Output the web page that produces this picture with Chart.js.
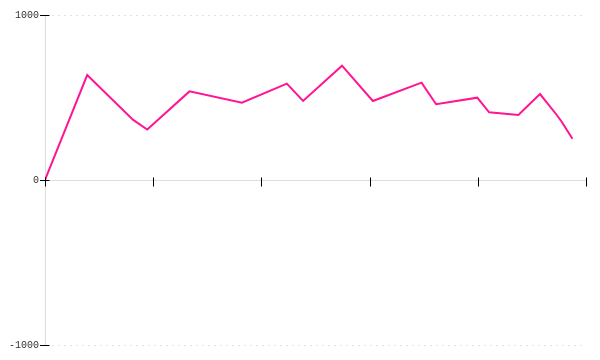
<!DOCTYPE html>
<html>
<head>
<meta charset="utf-8">
<script src="https://cdn.jsdelivr.net/npm/chart.js@4"></script>
<style>
  html, body { margin: 0; padding: 0; background: #fff; }
  #chart { display: block; }
</style>
</head>
<body>
<canvas id="chart" width="600" height="360"></canvas>
<script>
// data
const xValues = [0, 7.8, 16.3, 18.9, 26.7, 36.4, 44.7, 47.7, 54.9, 60.6, 69.6, 72.3, 79.9, 82.1, 87.5, 91.5, 94.6, 95.5, 97.5];
const yValues = [0, 636, 364, 306, 537, 468, 584, 479, 693, 479, 590, 459, 499, 410, 394, 521, 394, 353, 250];
const yTicks = [-1000, 0, 1000];
const xTicks = [0, 20, 40, 60, 80, 100];

const points = xValues.map((x, i) => ({ x: x, y: yValues[i] }));

// short black tick marks crossing the axes
const crossTicks = {
		id: 'crossTicks',
		afterDraw(chart) {
				const ctx = chart.ctx;
				const xs = chart.scales.x;
				const ys = chart.scales.y;
				const left = Math.round(chart.chartArea.left) + 0.5;
				const zero = Math.round(ys.getPixelForValue(0)) + 0.5;
				ctx.save();
				ctx.strokeStyle = '#000';
				ctx.lineWidth = 1;
				ctx.beginPath();
				yTicks.forEach(v => {
						const py = Math.round(ys.getPixelForValue(v)) + 0.5;
						ctx.moveTo(left - 5.5, py);
						ctx.lineTo(left + 4, py);
				});
				xTicks.forEach(v => {
						const px = Math.round(xs.getPixelForValue(v)) + 0.5;
						ctx.moveTo(px, zero - 3);
						ctx.lineTo(px, zero + 6);
				});
				ctx.stroke();
				ctx.restore();
		}
};

const chartContext = document.getElementById('chart');
const chart = new Chart(chartContext, {
		type: 'line',
		data: {
				datasets: [{
						data: points,
						borderColor: '#ff1493',
						borderWidth: 2,
						pointRadius: 0,
						tension: 0,
						fill: false
				}]
		},
		options: {
				responsive: false,
				animation: false,
				layout: { padding: { top: 15, right: 14, bottom: 15, left: 0 } },
				plugins: {
						legend: { display: false },
						tooltip: { enabled: false }
				},
				scales: {
						x: {
								type: 'linear',
								position: { y: 0 },
								min: 0,
								max: 100,
								afterBuildTicks: axis => { axis.ticks = xTicks.map(v => ({ value: v })); },
								ticks: { display: false },
								grid: { display: false, drawTicks: false },
								border: { display: true, color: '#dddddd', width: 1 }
						},
						y: {
								type: 'linear',
								min: -1000,
								max: 1000,
								afterBuildTicks: axis => { axis.ticks = yTicks.map(v => ({ value: v })); },
								afterFit: axis => { axis.width = 45; },
								ticks: {
										color: '#333',
										padding: 6,
										font: { family: 'Liberation Mono', size: 10 },
										callback: v => String(v)
								},
								grid: {
										drawTicks: false,
										color: ctx => ctx.tick && ctx.tick.value === 0 ? 'rgba(0,0,0,0)' : '#e2e2e2'
								},
								border: { display: true, color: '#dddddd', width: 1, dash: [2, 4] }
						}
				}
		},
		plugins: [crossTicks]
});
</script>
</body>
</html>
